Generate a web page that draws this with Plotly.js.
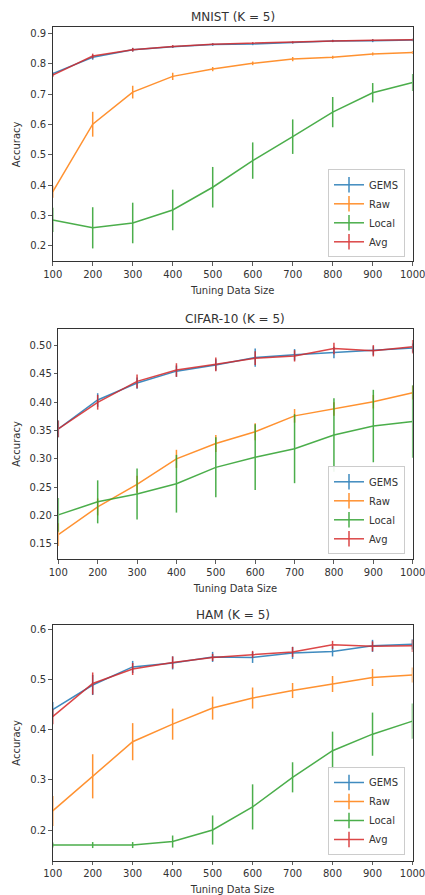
<!DOCTYPE html>
<html>
<head>
<meta charset="utf-8">
<script src="https://cdn.plot.ly/plotly-3.0.1.min.js"></script>
<style>html,body{margin:0;padding:0;background:#fff;}#chart{width:425px;height:895px;}</style>
</head>
<body>
<div id="chart"></div>
<script>
const tuningSizes = [100, 200, 300, 400, 500, 600, 700, 800, 900, 1000];
const seriesNames = ["GEMS", "Raw", "Local", "Avg"];
const seriesColors = ["#1f77b4", "#ff7f0e", "#2ca02c", "#d62728"];
const panelTitles = ["MNIST (K = 5)", "CIFAR-10 (K = 5)", "HAM (K = 5)"];

// MNIST
const mnistGems     = [0.768, 0.822, 0.847, 0.857, 0.864, 0.866, 0.871, 0.876, 0.877, 0.879];
const mnistGemsErr  = [0.005, 0.008, 0.006, 0.004, 0.004, 0.004, 0.003, 0.004, 0.005, 0.004];
const mnistRaw      = [0.378, 0.601, 0.707, 0.759, 0.783, 0.802, 0.816, 0.822, 0.833, 0.838];
const mnistRawErr   = [0.020, 0.041, 0.021, 0.012, 0.007, 0.006, 0.007, 0.005, 0.005, 0.005];
const mnistLocal    = [0.285, 0.259, 0.275, 0.318, 0.393, 0.481, 0.560, 0.641, 0.705, 0.739];
const mnistLocalErr = [0.040, 0.068, 0.067, 0.067, 0.067, 0.060, 0.057, 0.050, 0.032, 0.028];
const mnistAvg      = [0.763, 0.826, 0.847, 0.858, 0.865, 0.869, 0.871, 0.876, 0.878, 0.880];
const mnistAvgErr   = [0.006, 0.008, 0.006, 0.004, 0.003, 0.003, 0.003, 0.003, 0.003, 0.003];

// CIFAR-10
const cifarGems     = [0.353, 0.404, 0.434, 0.455, 0.466, 0.479, 0.484, 0.488, 0.491, 0.496];
const cifarGemsErr  = [0.015, 0.012, 0.010, 0.010, 0.010, 0.016, 0.010, 0.010, 0.008, 0.008];
const cifarRaw      = [0.166, 0.215, 0.255, 0.300, 0.327, 0.348, 0.376, 0.388, 0.401, 0.417];
const cifarRawErr   = [0.020, 0.015, 0.015, 0.016, 0.015, 0.015, 0.012, 0.012, 0.012, 0.012];
const cifarLocal    = [0.201, 0.224, 0.238, 0.256, 0.285, 0.303, 0.318, 0.342, 0.358, 0.366];
const cifarLocalErr = [0.030, 0.038, 0.045, 0.051, 0.053, 0.058, 0.061, 0.065, 0.064, 0.064];
const cifarAvg      = [0.353, 0.400, 0.437, 0.457, 0.467, 0.478, 0.482, 0.495, 0.491, 0.498];
const cifarAvgErr   = [0.015, 0.013, 0.012, 0.012, 0.012, 0.012, 0.010, 0.010, 0.010, 0.012];

// HAM
const hamGems     = [0.440, 0.489, 0.525, 0.533, 0.545, 0.544, 0.553, 0.556, 0.567, 0.570];
const hamGemsErr  = [0.015, 0.020, 0.012, 0.013, 0.010, 0.011, 0.012, 0.010, 0.012, 0.010];
const hamRaw      = [0.238, 0.307, 0.376, 0.411, 0.443, 0.463, 0.478, 0.491, 0.504, 0.509];
const hamRawErr   = [0.030, 0.044, 0.037, 0.031, 0.023, 0.021, 0.015, 0.016, 0.017, 0.015];
const hamLocal    = [0.170, 0.170, 0.170, 0.177, 0.200, 0.246, 0.305, 0.358, 0.391, 0.417];
const hamLocalErr = [0.005, 0.006, 0.006, 0.012, 0.029, 0.045, 0.030, 0.038, 0.043, 0.035];
const hamAvg      = [0.426, 0.492, 0.521, 0.534, 0.544, 0.550, 0.555, 0.569, 0.566, 0.567];
const hamAvgErr   = [0.015, 0.022, 0.012, 0.012, 0.007, 0.007, 0.010, 0.008, 0.010, 0.012];

const panels = [
  {vals: [mnistGems, mnistRaw, mnistLocal, mnistAvg], errs: [mnistGemsErr, mnistRawErr, mnistLocalErr, mnistAvgErr]},
  {vals: [cifarGems, cifarRaw, cifarLocal, cifarAvg], errs: [cifarGemsErr, cifarRawErr, cifarLocalErr, cifarAvgErr]},
  {vals: [hamGems, hamRaw, hamLocal, hamAvg], errs: [hamGemsErr, hamRawErr, hamLocalErr, hamAvgErr]}
];

const W = 425, H = 895;
// plot boxes in pixels: [left, right, top, bottom]
const boxes = [[52.7, 412.7, 27.3, 261.3], [58.3, 412.7, 329, 559], [52.7, 412.5, 625, 860.7]];
const yRanges = [[0.1485, 0.921], [0.123, 0.5295], [0.1388, 0.6086]];
const yTicks = [[0.2,0.3,0.4,0.5,0.6,0.7,0.8,0.9], [0.15,0.20,0.25,0.30,0.35,0.40,0.45,0.50], [0.2,0.3,0.4,0.5,0.6]];
const yFormats = [".1f", ".2f", ".1f"];
const legendBoxes = [[405, 257.3], [405, 554.3], [405, 855]];
const titleY = [16.7, 319, 615];

const traces = [];
const layout = {
  width: W, height: H, autosize: false,
  margin: {l: 0, r: 0, t: 0, b: 0},
  paper_bgcolor: "#fff", plot_bgcolor: "#fff",
  font: {family: "DejaVu Sans", size: 10, color: "#333"},
  annotations: [],
  showlegend: true
};

panels.forEach((p, i) => {
  const sfx = i === 0 ? "" : String(i + 1);
  const xa = "x" + sfx, ya = "y" + sfx;
  const lg = "legend" + sfx;
  p.vals.forEach((v, s) => {
    traces.push({
      x: tuningSizes, y: v, type: "scatter", mode: "lines",
      name: seriesNames[s], xaxis: xa, yaxis: ya, showlegend: false,
      line: {color: seriesColors[s], width: 1.5},
      opacity: 0.85,
      error_y: {type: "data", array: p.errs[s], visible: true, color: seriesColors[s], thickness: 1.5, width: 0},
      cliponaxis: true
    });
  });
  seriesNames.forEach((n, s) => {
    traces.push({
      x: [null], y: [null], type: "scatter", mode: "lines+markers",
      name: n, xaxis: xa, yaxis: ya, legend: lg, showlegend: true,
      line: {color: seriesColors[s], width: 1.5},
      marker: {symbol: "line-ns-open", size: 11, color: seriesColors[s], line: {color: seriesColors[s], width: 1.5}},
      opacity: 0.85
    });
  });
  const b = boxes[i];
  layout["xaxis" + sfx] = {
    domain: [b[0] / W, b[1] / W], anchor: ya, range: [100, 1000],
    tickvals: tuningSizes, ticks: "outside", ticklen: 3.5, tickwidth: 0.8, tickcolor: "#333",
    ticklabeloverflow: "allow",
    showline: true, mirror: true, linecolor: "#333", linewidth: 1,
    showgrid: false, zeroline: false, tickfont: {size: 10, color: "#333"},
    title: {text: "Tuning Data Size", font: {size: 10, color: "#333"}, standoff: 8}
  };
  layout["yaxis" + sfx] = {
    domain: [1 - b[3] / H, 1 - b[2] / H], anchor: xa, range: yRanges[i],
    tickvals: yTicks[i], tickformat: yFormats[i], ticks: "outside", ticklen: 3.5, tickwidth: 0.8, tickcolor: "#333",
    ticklabeloverflow: "allow",
    showline: true, mirror: true, linecolor: "#333", linewidth: 1,
    showgrid: false, zeroline: false, tickfont: {size: 10, color: "#333"},
    title: {text: "Accuracy", font: {size: 10, color: "#333"}, standoff: 7}
  };
  const lb = legendBoxes[i];
  layout[lg] = {
    x: lb[0] / W, xanchor: "right", y: 1 - lb[1] / H, yanchor: "bottom",
    xref: "paper", yref: "paper",
    bgcolor: "rgba(255,255,255,0.9)", bordercolor: "#ccc", borderwidth: 1,
    font: {size: 10, color: "#333"}, tracegroupgap: 0, itemwidth: 30
  };
  layout.annotations.push({
    text: panelTitles[i], xref: "paper", yref: "paper",
    x: (b[0] + b[1]) / 2 / W, y: 1 - titleY[i] / H, xanchor: "center", yanchor: "middle",
    showarrow: false, font: {size: 12, color: "#333"}
  });
});

Plotly.newPlot("chart", traces, layout, {displayModeBar: false, staticPlot: true});
</script>
</body>
</html>
